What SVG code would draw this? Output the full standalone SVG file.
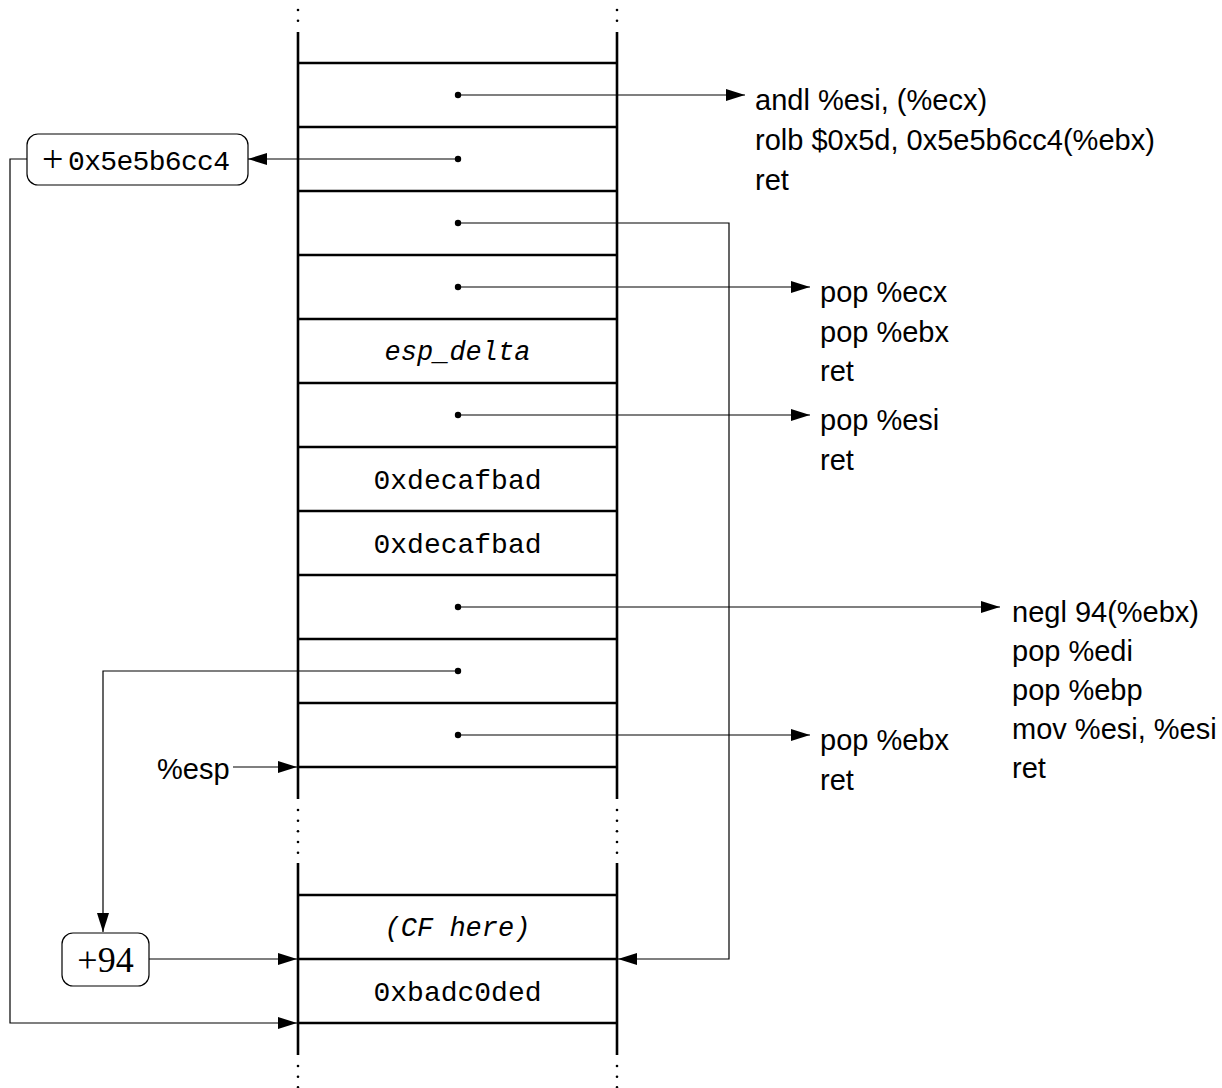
<svg xmlns="http://www.w3.org/2000/svg" width="1222" height="1088" viewBox="0 0 1222 1088">
<style>
.frame{stroke:#000;stroke-width:2.6;fill:none}
.conn{stroke:#000;stroke-width:1.2;fill:none}
.dot{fill:#000}
.sans{font-family:"Liberation Sans","DejaVu Sans",sans-serif;font-size:29px;fill:#000}
.mono{font-family:"Liberation Mono","DejaVu Sans Mono",monospace;font-size:28px;fill:#000}
.it{font-style:italic;font-size:27px}
.serif{font-family:"Liberation Serif","DejaVu Serif",serif;fill:#000}
.box{fill:#fff;stroke:#000;stroke-width:1.2}
</style>
<defs>
<marker id="ah" markerWidth="20" markerHeight="12" refX="19" refY="6" orient="auto" markerUnits="userSpaceOnUse">
<path d="M0,0 L19,6 L0,12 Z" fill="#000"/>
</marker>
</defs>
<rect width="1222" height="1088" fill="#fff"/>
<g id="stack">
<line class="frame" x1="298" y1="32" x2="298" y2="799"/>
<line class="frame" x1="617" y1="32" x2="617" y2="799"/>
<line class="frame" x1="298" y1="863" x2="298" y2="1055"/>
<line class="frame" x1="617" y1="863" x2="617" y2="1055"/>
<path class="frame" d="M298,63H617M298,127H617M298,191H617M298,255H617M298,319H617M298,383H617M298,447H617M298,511H617M298,575H617M298,639H617M298,703H617M298,767H617M298,895H617M298,959H617M298,1023H617"/>
<g class="dot">
<circle cx="298" cy="10" r="1.3"/><circle cx="298" cy="20.7" r="1.3"/>
<circle cx="617" cy="10" r="1.3"/><circle cx="617" cy="20.7" r="1.3"/>
<circle cx="298" cy="810" r="1.3"/><circle cx="298" cy="820.7" r="1.3"/><circle cx="298" cy="831.3" r="1.3"/><circle cx="298" cy="842" r="1.3"/><circle cx="298" cy="852.7" r="1.3"/>
<circle cx="617" cy="810" r="1.3"/><circle cx="617" cy="820.7" r="1.3"/><circle cx="617" cy="831.3" r="1.3"/><circle cx="617" cy="842" r="1.3"/><circle cx="617" cy="852.7" r="1.3"/>
<circle cx="298" cy="1066" r="1.3"/><circle cx="298" cy="1076.7" r="1.3"/><circle cx="298" cy="1087.3" r="1.3"/>
<circle cx="617" cy="1066" r="1.3"/><circle cx="617" cy="1076.7" r="1.3"/><circle cx="617" cy="1087.3" r="1.3"/>
</g>
<text class="mono it" x="457.5" y="360" text-anchor="middle">esp_delta</text>
<text class="mono" x="457.5" y="489" text-anchor="middle">0xdecafbad</text>
<text class="mono" x="457.5" y="553" text-anchor="middle">0xdecafbad</text>
<text class="mono it" x="457.5" y="936" text-anchor="middle">(CF here)</text>
<text class="mono" x="457.5" y="1001" text-anchor="middle">0xbadc0ded</text>
</g>
<g id="node-offset1">
<rect class="box" x="27" y="134" width="221" height="51" rx="11"/>
<text class="serif" x="42" y="172" font-size="38">+</text>
<text class="mono" x="68" y="170" textLength="162">0x5e5b6cc4</text>
</g>
<g id="node-offset2">
<rect class="box" x="62" y="933" width="87" height="53" rx="11"/>
<text class="serif" x="105.5" y="972" font-size="36" text-anchor="middle">+94</text>
</g>
<g id="node-esp">
<text class="sans" x="157" y="779">%esp</text>
</g>
<g id="node-g1">
<text class="sans" x="755" y="110">andl %esi, (%ecx)</text>
<text class="sans" x="755" y="150">rolb $0x5d, 0x5e5b6cc4(%ebx)</text>
<text class="sans" x="755" y="190">ret</text>
</g>
<g id="node-g2">
<text class="sans" x="820" y="302">pop %ecx</text>
<text class="sans" x="820" y="342">pop %ebx</text>
<text class="sans" x="820" y="381">ret</text>
</g>
<g id="node-g3">
<text class="sans" x="820" y="430">pop %esi</text>
<text class="sans" x="820" y="470">ret</text>
</g>
<g id="node-g4">
<text class="sans" x="1012" y="622">negl 94(%ebx)</text>
<text class="sans" x="1012" y="661">pop %edi</text>
<text class="sans" x="1012" y="700">pop %ebp</text>
<text class="sans" x="1012" y="739">mov %esi, %esi</text>
<text class="sans" x="1012" y="778">ret</text>
</g>
<g id="node-g5">
<text class="sans" x="820" y="750">pop %ebx</text>
<text class="sans" x="820" y="790">ret</text>
</g>
<g id="connectors">
<g class="dot">
<circle cx="458" cy="95" r="3.2"/><circle cx="458" cy="159" r="3.2"/><circle cx="458" cy="223" r="3.2"/><circle cx="458" cy="287" r="3.2"/><circle cx="458" cy="415" r="3.2"/><circle cx="458" cy="607" r="3.2"/><circle cx="458" cy="671" r="3.2"/><circle cx="458" cy="735" r="3.2"/>
</g>
<path class="conn" d="M458,95H745" marker-end="url(#ah)"/>
<path class="conn" d="M458,159H248" marker-end="url(#ah)"/>
<path class="conn" d="M458,223H729V959H618" marker-end="url(#ah)"/>
<path class="conn" d="M458,287H810" marker-end="url(#ah)"/>
<path class="conn" d="M458,415H810" marker-end="url(#ah)"/>
<path class="conn" d="M458,607H1000" marker-end="url(#ah)"/>
<path class="conn" d="M458,671H103V932" marker-end="url(#ah)"/>
<path class="conn" d="M458,735H810" marker-end="url(#ah)"/>
<path class="conn" d="M233,767H297" marker-end="url(#ah)"/>
<path class="conn" d="M149,959H297" marker-end="url(#ah)"/>
<path class="conn" d="M27,159H10V1023H297" marker-end="url(#ah)"/>
</g>
</svg>
